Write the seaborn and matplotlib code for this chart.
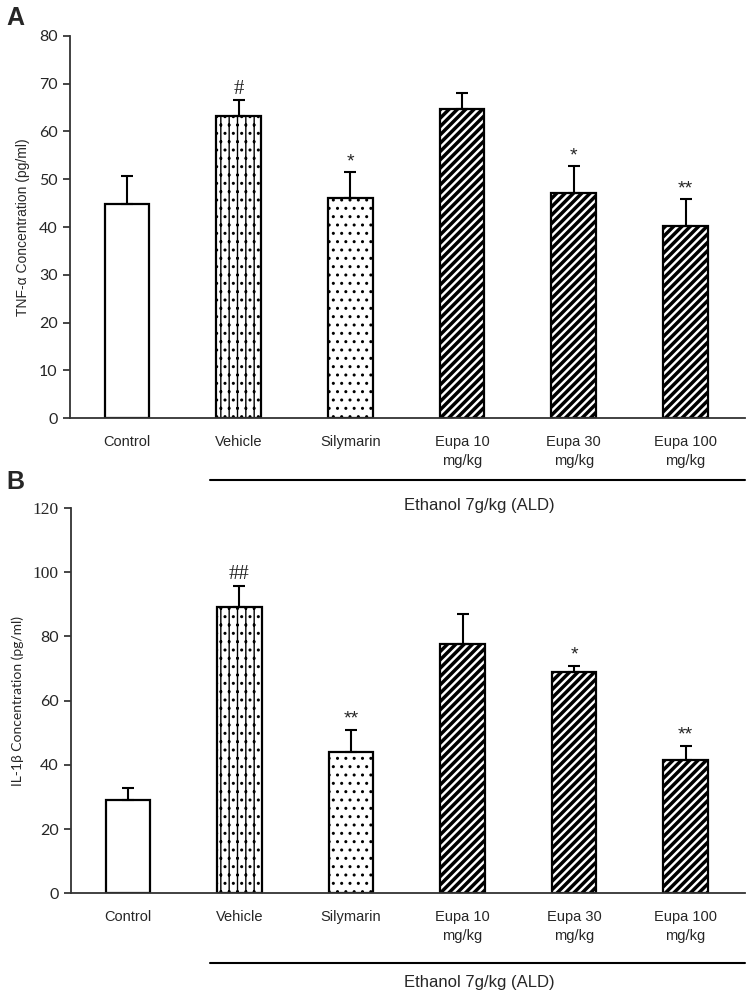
import numpy as np
import pandas as pd
import matplotlib
matplotlib.use("Agg")
import matplotlib.pyplot as plt
import matplotlib.transforms as mtransforms
import seaborn as sns

# group names / tick labels
groups = ["Control", "Vehicle", "Silymarin", "Eupa 10\nmg/kg", "Eupa 30\nmg/kg", "Eupa 100\nmg/kg"]

# panel A - TNF-a
tnf_mean = [44.8, 63.2, 46.0, 64.7, 47.1, 40.2]
tnf_sem = [5.9, 3.4, 5.5, 3.4, 5.7, 5.7]
tnf_sig = ["", "#", "*", "", "*", "**"]

# panel B - IL-1b
il1_mean = [29.0, 89.1, 43.9, 77.6, 68.8, 41.4]
il1_sem = [3.7, 6.5, 6.9, 9.3, 1.9, 4.4]
il1_sig = ["", "##", "**", "", "*", "**"]

hatches = ["", "||..", "..", "////", "////", "////"]
hatch_lw = [1.0, 1.0, 1.0, 2.5, 2.5, 2.5]

sns.set_style("white")
plt.rcParams["font.family"] = ["Liberation Sans", "DejaVu Sans"]

fig = plt.figure(figsize=(7.47, 9.98), dpi=100)
axA = fig.add_axes([0.0937, 0.581, 0.9033, 0.383])
axB = fig.add_axes([0.095, 0.105, 0.902, 0.386])


def draw_panel(ax, means, sems, sigs, ymax, ystep, ylabel, sig_off, lab_font):
    df = pd.DataFrame({"group": groups, "value": means})
    sns.barplot(data=df, x="group", y="value", color="white", edgecolor="black",
                linewidth=1.6, width=0.4, ax=ax, errorbar=None, saturation=1)
    for bar, h, lw in zip(ax.patches, hatches, hatch_lw):
        bar.set_hatch(h)
        bar.set_facecolor("white")
        if hasattr(bar, "set_hatch_linewidth"):
            bar.set_hatch_linewidth(lw)
    xs = np.arange(len(groups))
    ax.errorbar(xs, means, yerr=[np.zeros(len(means)), sems], fmt="none",
                ecolor="black", elinewidth=1.5, capsize=4, capthick=1.5)
    for x, m, s, sig in zip(xs, means, sems, sigs):
        if sig:
            ax.annotate(sig, (x, m + s), xytext=(0, sig_off), textcoords="offset points",
                        ha="center", va="bottom", fontsize=15 if "#" in sig else 14,
                        family=["Liberation Serif"] if "#" in sig else ["Liberation Sans"])
    ax.set_xlim(-0.51, 5.53)
    ax.set_ylim(0, ymax)
    ax.set_yticks(np.arange(0, ymax + 1, ystep))
    ax.set_xlabel("")
    ax.set_ylabel(ylabel, fontsize=10, family=lab_font, labelpad=6)
    ax.tick_params(axis="x", length=0, pad=12, labelsize=10.5)
    ax.tick_params(axis="y", length=5, width=1.2, direction="out", left=True, labelsize=11.5, pad=4)
    for lbl in ax.get_xticklabels():
        lbl.set_linespacing(1.5)
        lbl.set_va("top")
    for sp in ["top", "right"]:
        ax.spines[sp].set_visible(False)
    for sp in ["left", "bottom"]:
        ax.spines[sp].set_color("#333333")
        ax.spines[sp].set_linewidth(1.3)
    ax.patch.set_visible(False)


draw_panel(axA, tnf_mean, tnf_sem, tnf_sig, 80, 10, "TNF-\u03b1 Concentration (pg/ml)", 1, ["Liberation Sans"])
draw_panel(axB, il1_mean, il1_sem, il1_sig, 120, 20, "IL-1\u03b2 Concentration (pg/ml)", 2, ["Lato"])

for lbl in axA.get_yticklabels():
    lbl.set_family(["Lato"])
for lbl in axB.get_yticklabels():
    if lbl.get_text() in ("120", "100"):
        lbl.set_family(["Liberation Serif"])
        lbl.set_fontsize(12.5)
    else:
        lbl.set_family(["Lato"])

# ethanol bracket under the treated groups
for ax, yline, ytext in [(axA, -0.162, -0.228), (axB, -0.182, -0.232)]:
    trans = mtransforms.blended_transform_factory(ax.transData, ax.transAxes)
    ax.plot([0.74, 5.53], [yline, yline], color="black", lw=1.5, transform=trans, clip_on=False)
    ax.text(3.15, ytext, "Ethanol 7g/kg (ALD)", transform=trans, ha="center", va="center",
            fontsize=12)

fig.text(0.008, 0.982, "A", fontsize=18, fontweight="bold", va="center")
fig.text(0.008, 0.517, "B", fontsize=18, fontweight="bold", va="center")

fig.savefig("out.png", dpi=100)
